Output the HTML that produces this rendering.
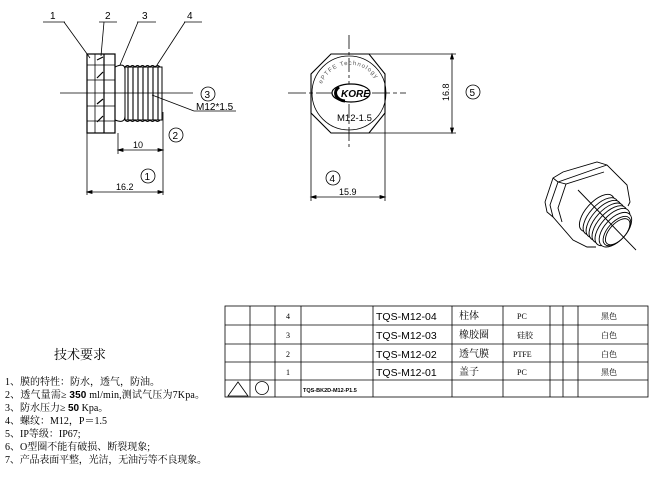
<!DOCTYPE html>
<html><head><meta charset="utf-8"><style>
html,body{margin:0;padding:0;background:#fff;}
svg{display:block;}
.s{font-family:"Liberation Sans",sans-serif;}
.c{font-family:"Liberation Serif","Noto Serif CJK SC","Noto Sans CJK SC",serif;}
</style></head><body>
<svg width="669" height="495" viewBox="0 0 669 495" xmlns="http://www.w3.org/2000/svg" stroke="#000" fill="none" stroke-width="0.8">
<!-- left view -->
<g>
<line x1="60" y1="93" x2="193" y2="93"/>
<rect x="87" y="54" width="28" height="79" stroke-width="1.2"/>
<line x1="95" y1="54" x2="95" y2="133"/>
<line x1="104" y1="54" x2="104" y2="133" stroke-width="1.2"/>
<line x1="87" y1="65" x2="115" y2="65"/><line x1="87" y1="80" x2="115" y2="80"/>
<line x1="87" y1="106" x2="115" y2="106"/><line x1="87" y1="121" x2="115" y2="121"/>
<path d="M97 60 L103 57 M97 78 L103 72 M97 104 L103 99 M97 122 L103 116" stroke-width="1.2"/>
<path d="M115 67 Q125 62 125 70 L125 116 Q125 124 115 120" stroke-width="1"/>
<rect x="125" y="67" width="37" height="53" stroke-width="1"/>
<g stroke-width="1.1">
<path d="M128 67 V120 M133 67 V120 M138 67 V120 M143 67 V120 M148 67 V120 M153 67 V120 M158 67 V120"/>
<path d="M125 67 q2.5 -3 5 0 q2.5 -3 5 0 q2.5 -3 5 0 q2.5 -3 5 0 q2.5 -3 5 0 q2.5 -3 5 0 q2.5 -3 5 0"/>
<path d="M125 120 q2.5 3 5 0 q2.5 3 5 0 q2.5 3 5 0 q2.5 3 5 0 q2.5 3 5 0 q2.5 3 5 0 q2.5 3 5 0"/>
</g>
<line x1="43" y1="22" x2="65" y2="22"/><line x1="64" y1="22" x2="90" y2="58"/>
<line x1="99" y1="22" x2="117" y2="22"/><line x1="104" y1="22" x2="101" y2="56"/>
<line x1="137" y1="22" x2="156" y2="22"/><line x1="138" y1="22" x2="120" y2="65"/>
<line x1="184" y1="22" x2="202" y2="22"/><line x1="185" y1="22" x2="157" y2="65"/>
<g class="s" fill="#000" stroke="none" font-size="10">
<text x="50" y="19">1</text><text x="105" y="19">2</text><text x="142" y="19">3</text><text x="187" y="19">4</text>
</g>
<circle cx="208" cy="94" r="7"/>
<line x1="152" y1="95" x2="194" y2="111"/><line x1="194" y1="111" x2="236" y2="111"/>
<text class="s" x="196" y="110" font-size="10" fill="#000" stroke="none">M12*1.5</text>
<line x1="87" y1="133" x2="87" y2="195"/><line x1="163" y1="112" x2="163" y2="195"/><line x1="118" y1="133" x2="118" y2="154"/>
<line x1="118" y1="150" x2="163" y2="150"/>
<path d="M118 150 l5 -1.5 v3z M163 150 l-5 -1.5 v3z" fill="#000"/>
<text class="s" x="133" y="148" font-size="9" fill="#000" stroke="none">10</text>
<line x1="87" y1="192" x2="163" y2="192"/>
<path d="M87 192 l5 -1.5 v3z M163 192 l-5 -1.5 v3z" fill="#000"/>
<text class="s" x="116" y="190" font-size="9" fill="#000" stroke="none">16.2</text>
<circle cx="176" cy="135" r="7"/><text class="s" x="172.5" y="139" font-size="10" fill="#000" stroke="none">2</text>
<circle cx="148" cy="176" r="7"/><text class="s" x="144.5" y="180" font-size="10" fill="#000" stroke="none">1</text>
<text class="s" x="204.5" y="98" font-size="10" fill="#000" stroke="none">3</text>
</g>
<!-- right view -->
<g>
<polygon points="331,54 369,54 385,74 385,113 369,133 331,133 311,113 311,74" stroke-width="1.1"/>
<circle cx="349" cy="93" r="37"/>
<line x1="349" y1="35" x2="349" y2="150" stroke-dasharray="14 3 3 3"/>
<line x1="288" y1="93" x2="406" y2="93" stroke-dasharray="18 3 4 3"/>
<ellipse cx="351" cy="93" rx="19" ry="9" stroke-width="1.2" fill="#fff"/>
<path d="M339 87 a10 8 0 0 0 6 14" stroke-width="3"/>
<text x="341" y="97" class="s" font-size="10" font-weight="bold" font-style="italic" fill="#000" stroke="none">KORE</text>
<text class="s" x="337" y="121" font-size="9.5" fill="#000" stroke="none">M12-1.5</text>
<path id="arc" d="M322 84 A30 30 0 0 1 378 84" stroke="none"/>
<text class="s" font-size="6" fill="#555" stroke="none" letter-spacing="1"><textPath href="#arc">ePTFE Technology</textPath></text>
<line x1="369" y1="54" x2="456" y2="54"/><line x1="369" y1="133" x2="456" y2="133"/>
<line x1="452" y1="54" x2="452" y2="133"/>
<path d="M452 54 l-1.5 5 h3z M452 133 l-1.5 -5 h3z" fill="#000"/>
<text class="s" font-size="9" fill="#000" stroke="none" transform="translate(449,101) rotate(-90)">16.8</text>
<circle cx="473" cy="92" r="7"/><text class="s" x="469.5" y="96" font-size="10" fill="#000" stroke="none">5</text>
<line x1="311" y1="93" x2="311" y2="201"/><line x1="385" y1="93" x2="385" y2="201"/>
<line x1="311" y1="197" x2="385" y2="197"/>
<path d="M311 197 l5 -1.5 v3z M385 197 l-5 -1.5 v3z" fill="#000"/>
<text class="s" x="339" y="195" font-size="9" fill="#000" stroke="none">15.9</text>
<circle cx="333" cy="178" r="7"/><text class="s" x="329.5" y="182" font-size="10" fill="#000" stroke="none">4</text>
</g>
<!-- 3D view -->
<g stroke-width="0.9">
<path d="M545 202 L553 178 L563 172 L597 162 L607 165 L627 185 L630 202 L628 206"/>
<path d="M545 202 L547 212 L553 217 L573 240 L587 247 L596 247"/>
<path d="M553 178 L558 182 L598 168 L607 165 M558 182 L566 184 L604 172"/>
<path d="M558 182 L550 205 L553 217 M566 184 L558 208 L562 222"/>
<g transform="translate(8,8) rotate(42 600 215)" fill="#fff">
<ellipse cx="585" cy="215" rx="11" ry="23"/>
<ellipse cx="590" cy="215" rx="11" ry="23"/>
<ellipse cx="594" cy="215" rx="11" ry="23"/>
<ellipse cx="598" cy="215" rx="11" ry="23"/>
<ellipse cx="602" cy="215" rx="11" ry="23"/>
<ellipse cx="606" cy="215" rx="11" ry="23"/>
<ellipse cx="610" cy="215" rx="11" ry="21"/>
<ellipse cx="612" cy="215" rx="9" ry="18"/>
<ellipse cx="613" cy="215" rx="8" ry="16"/>
</g>
<line x1="578" y1="190" x2="636" y2="250"/>
</g>
<!-- table -->
<g stroke-width="0.8">
<rect x="225" y="306" width="423" height="91"/>
<line x1="225" y1="325" x2="648" y2="325"/><line x1="225" y1="344" x2="648" y2="344"/>
<line x1="225" y1="362" x2="648" y2="362"/><line x1="225" y1="380" x2="648" y2="380"/>
<line x1="250" y1="306" x2="250" y2="397"/><line x1="275" y1="306" x2="275" y2="397"/>
<line x1="301" y1="306" x2="301" y2="397"/><line x1="373" y1="306" x2="373" y2="397"/>
<line x1="452" y1="306" x2="452" y2="397"/><line x1="503" y1="306" x2="503" y2="397"/>
<line x1="550" y1="306" x2="550" y2="397"/><line x1="563" y1="306" x2="563" y2="397"/>
<line x1="578" y1="306" x2="578" y2="397"/>
<polygon points="228,396 238,382 248,396"/>
<circle cx="262" cy="388" r="6.5"/>
</g>
<g class="c" fill="#000" stroke="none" font-size="8">
<text x="286" y="319">4</text><text x="286" y="338">3</text><text x="286" y="357">2</text><text x="286" y="375">1</text>
<text x="517" y="319">PC</text><text x="517" y="338">硅胶</text><text x="513" y="357">PTFE</text><text x="517" y="375">PC</text>
<text x="601" y="319">黑色</text><text x="601" y="338">白色</text><text x="601" y="357">白色</text><text x="601" y="375">黑色</text>
<g font-size="10"><text x="459" y="319">柱体</text><text x="459" y="338">橡胶圈</text><text x="459" y="357">透气膜</text><text x="459" y="375">盖子</text></g>
</g>
<g class="s" fill="#000" stroke="none" font-size="10.5">
<text x="376" y="320">TQS-M12-04</text><text x="376" y="339">TQS-M12-03</text><text x="376" y="358">TQS-M12-02</text><text x="376" y="376">TQS-M12-01</text>
<text x="303" y="392" font-size="5.5" font-weight="bold">TQS-BK2D-M12-P1.5</text>
</g>
<!-- notes -->
<g class="c" fill="#000" stroke="none" font-size="10">
<text x="54" y="359" font-size="13">技术要求</text>
<text x="5" y="385">1、膜的特性：防水，透气，防油。</text>
<text x="5" y="398" textLength="200">2、透气量需≥ <tspan font-family="Liberation Sans" font-weight="bold">350</tspan> ml/min,测试气压为7Kpa。</text>
<text x="5" y="411">3、防水压力≥ <tspan font-family="Liberation Sans" font-weight="bold">50</tspan> Kpa。</text>
<text x="5" y="424">4、螺纹：M12，P＝1.5</text>
<text x="5" y="437">5、IP等级：IP67;</text>
<text x="5" y="450">6、O型圈不能有破损、断裂现象;</text>
<text x="5" y="463" textLength="202">7、产品表面平整，光洁，无油污等不良现象。</text>
</g>
</svg>
</body></html>
